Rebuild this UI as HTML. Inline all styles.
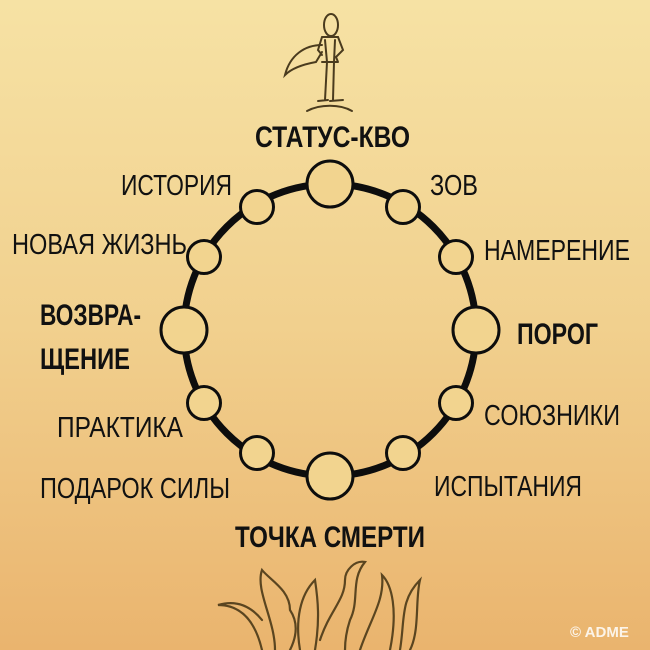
<!DOCTYPE html>
<html><head><meta charset="utf-8"><style>
html,body{margin:0;padding:0;}
body{width:650px;height:650px;overflow:hidden;background:linear-gradient(180deg,#f6e2a4 0%,#f1d08e 50%,#eab46e 100%);}
svg{display:block}
text{font-family:"Liberation Sans",sans-serif;fill:#111;}
.b{font-weight:bold}
</style></head><body>
<svg width="650" height="650" viewBox="0 0 650 650" xmlns="http://www.w3.org/2000/svg">
<!-- hero -->
<g fill="none" stroke="#4a3b1e" stroke-width="2" stroke-linecap="round">
<ellipse cx="331" cy="25" rx="7" ry="11"/>
<path d="M322 37 L338 37 L343 50 L336 57 L338 62 M322 37 L318 50 L322 55 M325 40 L327 62 M335 40 L334 62 M322 62 L338 62 M327 62 L325 100 M334 62 L333 100 M318 101 L328 100 M330 101 L343 100"/>
<path d="M322 45 C305 45 290 55 285 75 C292 68 305 64 316 62 L322 52"/>
<path d="M307 111 C320 104 340 104 352 111"/>
</g>
<!-- flames -->
<g fill="none" stroke="#5a4520" stroke-width="2.2" stroke-linecap="round">
<path d="M262 650 C255 620 240 605 218 605 C235 600 250 605 262 620"/>
<path d="M275 650 C275 620 255 590 262 570 C270 580 290 590 290 610 C300 625 295 640 290 650"/>
<path d="M300 650 C295 620 300 595 315 580 C318 600 320 620 315 650"/>
<path d="M320 640 C330 610 345 600 345 580 C345 570 355 560 365 562 C350 580 360 600 350 620 C345 635 345 645 345 650"/>
<path d="M360 650 C370 620 385 600 382 575 C392 585 398 610 390 650"/>
<path d="M400 650 C405 620 400 600 420 580 C415 600 420 630 410 650"/>
</g>
<!-- ring -->
<circle cx="330" cy="330" r="146" fill="none" stroke="#0d0d0d" stroke-width="7"/>
<g fill="#f2d48f" stroke="#0d0d0d" stroke-width="3">
<circle cx="330" cy="184" r="23"/>
<circle cx="476" cy="330" r="23"/>
<circle cx="330" cy="476" r="23"/>
<circle cx="184" cy="330" r="23"/>
<circle cx="403" cy="207" r="16.5"/>
<circle cx="456" cy="257" r="16.5"/>
<circle cx="456" cy="403" r="16.5"/>
<circle cx="403" cy="453" r="16.5"/>
<circle cx="257" cy="453" r="16.5"/>
<circle cx="204" cy="403" r="16.5"/>
<circle cx="204" cy="257" r="16.5"/>
<circle cx="257" cy="207" r="16.5"/>
</g>
<!-- labels -->
<text class="b" x="255" y="147" font-size="30" textLength="155" lengthAdjust="spacingAndGlyphs">СТАТУС-КВО</text>
<text x="121" y="195" font-size="29" textLength="111" lengthAdjust="spacingAndGlyphs">ИСТОРИЯ</text>
<text x="430" y="195" font-size="29" textLength="48" lengthAdjust="spacingAndGlyphs">ЗОВ</text>
<text x="12" y="254" font-size="29" textLength="175" lengthAdjust="spacingAndGlyphs">НОВАЯ ЖИЗНЬ</text>
<text x="484" y="260" font-size="29" textLength="146" lengthAdjust="spacingAndGlyphs">НАМЕРЕНИЕ</text>
<text class="b" x="40" y="325" font-size="30" textLength="101" lengthAdjust="spacingAndGlyphs">ВОЗВРА-</text>
<text class="b" x="40" y="369" font-size="30" textLength="90" lengthAdjust="spacingAndGlyphs">ЩЕНИЕ</text>
<text class="b" x="517" y="344" font-size="30" textLength="81" lengthAdjust="spacingAndGlyphs">ПОРОГ</text>
<text x="484" y="425" font-size="29" textLength="136" lengthAdjust="spacingAndGlyphs">СОЮЗНИКИ</text>
<text x="57" y="437" font-size="29" textLength="126" lengthAdjust="spacingAndGlyphs">ПРАКТИКА</text>
<text x="40" y="498" font-size="29" textLength="190" lengthAdjust="spacingAndGlyphs">ПОДАРОК СИЛЫ</text>
<text x="434" y="496" font-size="29" textLength="148" lengthAdjust="spacingAndGlyphs">ИСПЫТАНИЯ</text>
<text class="b" x="235" y="547" font-size="30" textLength="190" lengthAdjust="spacingAndGlyphs">ТОЧКА СМЕРТИ</text>
<text class="b" x="570" y="637" font-size="15" style="fill:#fff;opacity:.85">© ADME</text>
</svg>
</body></html>
